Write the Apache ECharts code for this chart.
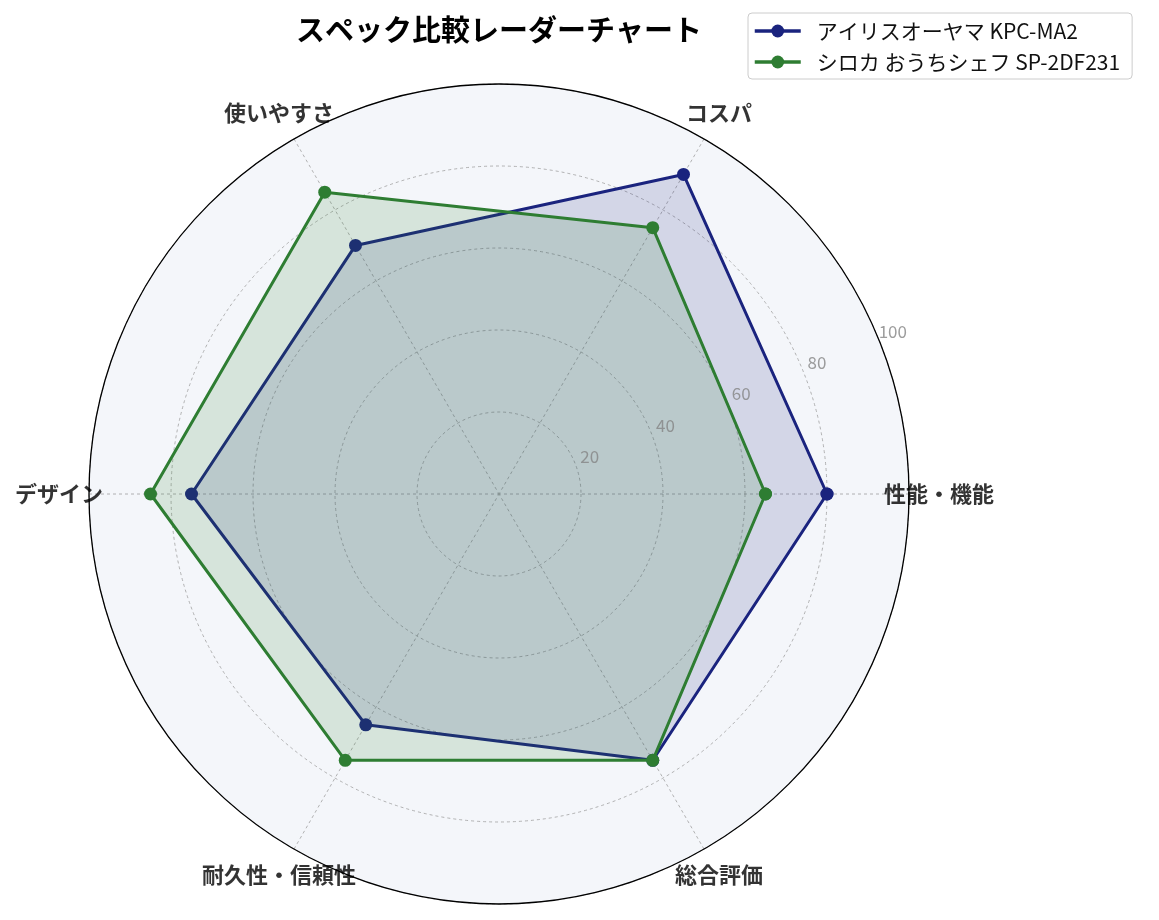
<!DOCTYPE html>
<html><head><meta charset="utf-8">
<script src="https://cdn.jsdelivr.net/npm/echarts@6/dist/echarts.min.js"></script>
<style>html,body{margin:0;padding:0;background:#fff}#c{width:1159px;height:920px}</style>
</head><body><div id="c"></div>
<script>
const categories = ['性能・機能','コスパ','使いやすさ','デザイン','耐久性・信頼性','総合評価'];
const irisValues = [80, 90, 70, 75, 65, 75];
const sirocaValues = [65, 75, 85, 85, 75, 75];
const seriesNames = ['アイリスオーヤマ KPC-MA2','シロカ おうちシェフ SP-2DF231'];
const radiusTicks = [20, 40, 60, 80, 100];
const titleText = 'スペック比較レーダーチャート';

const FONT = '"Noto Sans CJK JP", "Noto Sans", sans-serif';
const NAVY = '#1a237e';
const GREEN = '#2e7d32';
const CENTER = [499, 494];
const step = 360 / categories.length;
const tickAngle = 22.5;
const GRID = {color:'#a0a0a0', width:0.8, type:[3,3]};

function toPolar(vals){
  const d = vals.map((v,i)=>[v, i*step]);
  d.push([vals[0], 360]);
  return d;
}

const chart = echarts.init(document.getElementById('c'));
chart.setOption({
  backgroundColor:'#fff',
  animation:false,
  textStyle:{fontFamily:FONT},
  title:{
    text:titleText, left:499, top:15, textAlign:'center', padding:0,
    textStyle:{fontSize:29, fontWeight:'bold', color:'#000', fontFamily:FONT}
  },
  legend:{
    data:seriesNames, orient:'vertical', left:748, top:13,
    padding:[7,12,6,5], itemGap:9, itemWidth:46, itemHeight:16,
    borderColor:'#cccccc', borderWidth:1, borderRadius:4, backgroundColor:'#fff',
    lineStyle:{width:3.5},
    textStyle:{fontSize:21, color:'#111', fontFamily:FONT, lineHeight:22, padding:[0,0,0,11]}
  },
  polar:[
    {center:CENTER, radius:410},
    {center:CENTER, radius:440},
    {center:CENTER, radius:410}
  ],
  angleAxis:[
    {polarIndex:0, type:'value', min:0, max:360, interval:step, startAngle:0, clockwise:false, z:1,
     axisLine:{show:true, lineStyle:{color:'#000', width:1.3}},
     axisTick:{show:false}, axisLabel:{show:false},
     splitLine:{show:true, lineStyle:GRID},
     splitArea:{show:false}},
    {polarIndex:1, type:'value', min:0, max:360, startAngle:0, clockwise:false, show:false},
    {polarIndex:2, type:'value', min:0, max:360, startAngle:0, clockwise:false, show:false}
  ],
  radiusAxis:[
    {polarIndex:0, type:'value', min:0, max:100, interval:20, z:0,
     axisLine:{show:false}, axisTick:{show:false}, axisLabel:{show:false},
     splitLine:{show:false},
     splitArea:{show:true, areaStyle:{color:['#f4f6fa']}}},
    {polarIndex:1, type:'value', min:0, max:100, show:false},
    {polarIndex:2, type:'value', min:0, max:100, interval:20, z:1,
     axisLine:{show:false}, axisTick:{show:false}, axisLabel:{show:false},
     splitLine:{show:true, showMaxLine:false, lineStyle:GRID},
     splitArea:{show:false}}
  ],
  series:[
    {type:'line', name:seriesNames[0], coordinateSystem:'polar', polarIndex:0,
     data:toPolar(irisValues), symbol:'circle', symbolSize:13, z:3,
     lineStyle:{width:3, color:NAVY}, itemStyle:{color:NAVY},
     areaStyle:{color:NAVY, opacity:0.15}},
    {type:'line', name:seriesNames[1], coordinateSystem:'polar', polarIndex:0,
     data:toPolar(sirocaValues), symbol:'circle', symbolSize:13, z:4,
     lineStyle:{width:3, color:GREEN}, itemStyle:{color:GREEN},
     areaStyle:{color:GREEN, opacity:0.15}},
    {type:'scatter', coordinateSystem:'polar', polarIndex:0, silent:true, z:6,
     symbolSize:1, itemStyle:{color:'rgba(0,0,0,0)'},
     data:radiusTicks.map(v=>({value:[v, tickAngle], name:String(v)})),
     label:{show:true, position:'inside', offset:[15,-6], formatter:'{b}', fontSize:17, color:'#858585', fontFamily:FONT}},
    {type:'scatter', coordinateSystem:'polar', polarIndex:1, silent:true, z:7,
     symbolSize:1, itemStyle:{color:'rgba(0,0,0,0)'},
     data:categories.map((c,i)=>({value:[100, i*step], name:c})),
     label:{show:true, position:'inside', formatter:'{b}', fontSize:22, fontWeight:'bold', color:'#000', fontFamily:FONT}}
  ]
});
</script>
</body></html>
